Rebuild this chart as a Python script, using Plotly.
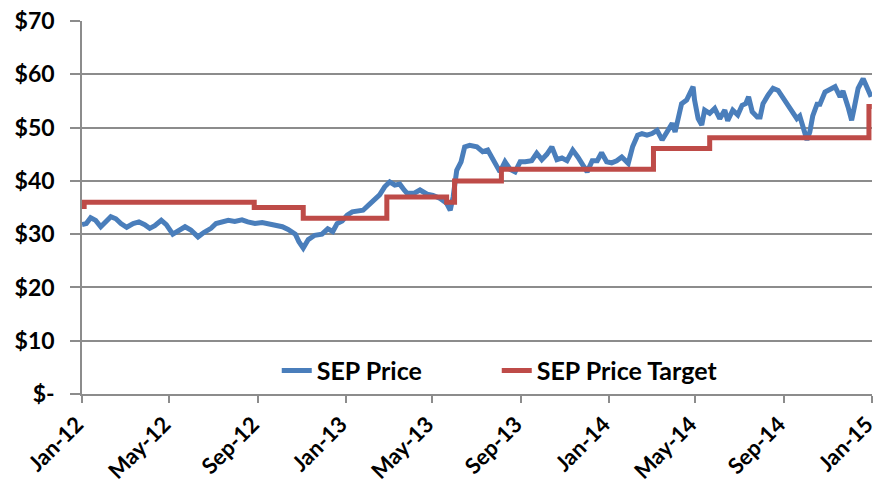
import pandas as pd
import plotly.graph_objects as go

START = pd.Timestamp("2012-01-01")

# SEP Price: days since 2012-01-01 and closing price ($)
price_day = [0, 6, 12, 19, 26, 33, 40, 47, 54, 62, 71, 79, 87, 94, 101, 110, 117, 126, 135, 143,
             151, 161, 169, 179, 186, 193, 203, 212, 222, 230, 240, 250, 258, 268, 278, 286, 296,
             301, 307, 314, 323, 333, 341, 348, 354, 361, 368, 375, 382, 390, 398, 407, 413, 420,
             427, 434, 441, 447, 451, 461, 469, 479, 487, 497, 506, 511, 515, 520, 526, 531, 538,
             548, 556, 563, 569, 573, 580, 587, 594, 601, 608, 615, 624, 631, 638, 645, 652, 659,
             666, 673, 681, 688, 695, 701, 708, 715, 721, 728, 735, 742, 749, 753, 758, 764, 771,
             777, 784, 791, 798, 805, 812, 819, 823, 827, 832, 839, 844, 848, 850, 855, 860, 864,
             871, 878, 885, 892, 896, 903, 910, 916, 921, 925, 930, 937, 941, 945, 952, 959, 966,
             973, 980, 986, 992, 996, 1000, 1006, 1010, 1014, 1020, 1024, 1031, 1038, 1045, 1052,
             1056, 1063, 1068, 1072, 1077, 1084, 1088, 1093, 1095]
price_val = [31.8, 32.0, 33.1, 32.6, 31.4, 32.3, 33.3, 32.9, 32.0, 31.3, 32.0, 32.3, 31.8, 31.1,
             31.6, 32.6, 31.8, 30.0, 30.8, 31.4, 30.8, 29.5, 30.3, 31.1, 32.0, 32.3, 32.6, 32.4,
             32.7, 32.3, 32.0, 32.2, 32.0, 31.7, 31.4, 30.9, 30.0, 28.6, 27.4, 29.0, 29.8, 30.0,
             31.0, 30.5, 32.0, 32.5, 33.6, 34.2, 34.3, 34.5, 35.5, 36.7, 37.4, 38.9, 39.8, 39.2,
             39.4, 38.3, 37.7, 37.7, 38.3, 37.5, 37.3, 36.7, 35.8, 34.5, 37.0, 42.0, 43.6, 46.4,
             46.7, 46.4, 45.5, 45.8, 44.5, 43.6, 41.7, 43.6, 42.2, 41.7, 43.6, 43.6, 43.8, 45.2,
             44.0, 45.0, 46.4, 44.0, 44.3, 43.8, 45.8, 44.5, 43.0, 41.7, 43.8, 43.8, 45.3, 43.6,
             43.4, 43.8, 44.5, 44.0, 43.3, 46.4, 48.6, 48.9, 48.6, 48.9, 49.5, 47.7, 49.5, 50.8,
             49.2, 52.0, 54.5, 55.2, 56.7, 57.7, 55.2, 51.7, 50.5, 53.3, 52.7, 53.6, 51.7, 53.3,
             51.3, 53.3, 52.4, 54.2, 54.5, 55.8, 53.0, 52.0, 52.0, 54.5, 56.1, 57.4, 57.0, 55.6,
             54.5, 53.0, 51.7, 52.2, 50.5, 47.7, 49.2, 52.2, 54.4, 54.4, 56.7, 57.1, 57.7, 55.8,
             56.9, 53.9, 51.4, 54.0, 57.4, 59.2, 58.0, 56.1, 55.8]

# SEP Price Target: step changes (days since 2012-01-01) and target ($)
target_day = [0, 3, 239, 307, 423, 506, 517, 582, 793, 871, 1092, 1096]
target_val = [35.2, 36.0, 35.0, 33.0, 37.0, 36.0, 40.0, 42.2, 46.1, 48.1, 54.0, 54.0]

# Axis ticks and labels
x_ticks = ["2012-01-01", "2012-05-01", "2012-09-01", "2013-01-01", "2013-05-01", "2013-09-01",
           "2014-01-01", "2014-05-01", "2014-09-01", "2015-01-01"]
x_labels = ["Jan-12", "May-12", "Sep-12", "Jan-13", "May-13", "Sep-13",
            "Jan-14", "May-14", "Sep-14", "Jan-15"]
y_ticks = [0, 10, 20, 30, 40, 50, 60, 70]
y_labels = ["$-", "$10", "$20", "$30", "$40", "$50", "$60", "$70"]

price_dates = [START + pd.Timedelta(days=d) for d in price_day]
target_dates = [START + pd.Timedelta(days=d) for d in target_day]

FONT = "Lato, Carlito, Calibri, 'Open Sans', sans-serif"
GRID = "#8c8c8c"

fig = go.Figure()
fig.add_trace(go.Scatter(x=price_dates, y=price_val, mode="lines", name="SEP Price",
                         line=dict(color="#4A7EBB", width=5)))
fig.add_trace(go.Scatter(x=target_dates, y=target_val, mode="lines", name="SEP Price Target",
                         line=dict(color="#BE4B48", width=5, shape="hv")))

fig.update_layout(
    width=879, height=484,
    margin=dict(l=82, r=7, t=21, b=90, autoexpand=False),
    paper_bgcolor="white", plot_bgcolor="white",
    font=dict(family=FONT, size=23, color="black"),
    legend=dict(orientation="h", x=0.525, xanchor="center", y=0.062, yanchor="middle",
                font=dict(family=FONT, size=25, color="black", weight="bold"),
                bgcolor="rgba(0,0,0,0)", entrywidth=175, entrywidthmode="pixels"),
    showlegend=True,
)
fig.update_xaxes(
    type="date", range=["2012-01-01", "2015-01-01 06:00"],
    tickvals=x_ticks, ticktext=x_labels, tickangle=-45, ticklabeloverflow="allow",
    ticks="outside", ticklen=7, tickcolor=GRID, tickwidth=1.5, ticklabelstandoff=0,
    ticklabelshift=-5,
    showline=True, linecolor=GRID, linewidth=1.5, showgrid=False, zeroline=False,
    automargin=False,
    tickfont=dict(family=FONT, size=22, color="black", weight="bold"),
)
fig.update_yaxes(
    range=[0, 70.03], tickvals=y_ticks, ticktext=y_labels, ticklabeloverflow="allow",
    ticks="outside", ticklen=10, tickcolor=GRID, tickwidth=1.5, ticklabelstandoff=11,
    showline=True, linecolor=GRID, linewidth=1.5,
    showgrid=True, gridcolor=GRID, gridwidth=1.5, zeroline=False,
    automargin=False,
    tickfont=dict(family=FONT, size=23, color="black", weight="bold"),
)

# remove the page's default 8px body margin so the figure fills the window exactly
fig.write_html("out.html", config={"displayModeBar": False},
               post_script="document.body.style.margin='0';")
